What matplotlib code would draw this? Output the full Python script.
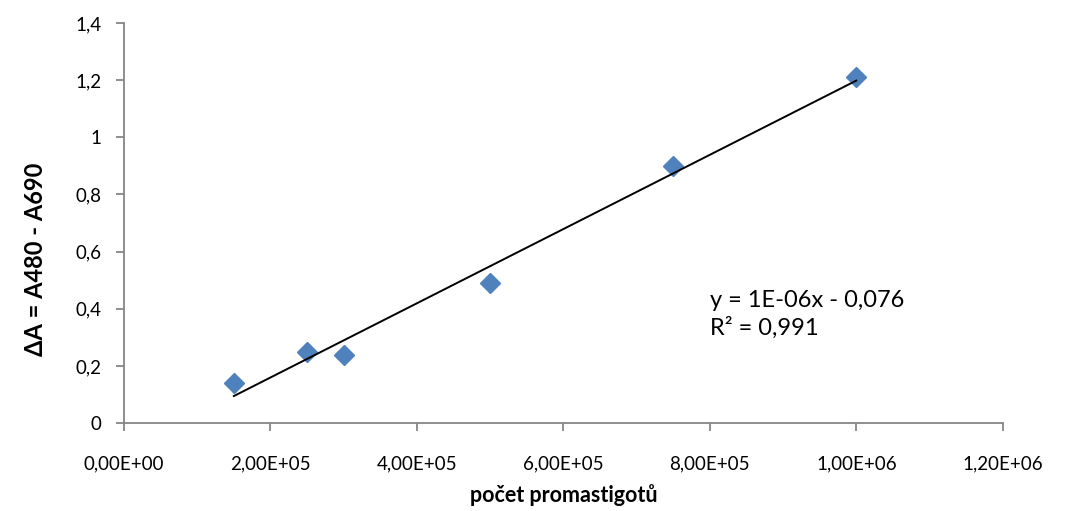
import numpy as np
import matplotlib
matplotlib.use('Agg')
import matplotlib.pyplot as plt

plt.rcParams['font.family'] = ['Lato', 'DejaVu Sans']

# data
pocet = [1.5e5, 2.5e5, 3.0e5, 5.0e5, 7.5e5, 1.0e6]
delta_a = [0.14, 0.25, 0.24, 0.49, 0.90, 1.21]
x_ticks = [0, 2e5, 4e5, 6e5, 8e5, 1e6, 1.2e6]
x_labels = ['0,00E+00', '2,00E+05', '4,00E+05', '6,00E+05', '8,00E+05', '1,00E+06', '1,20E+06']
y_ticks = [0, 0.2, 0.4, 0.6, 0.8, 1.0, 1.2, 1.4]
y_labels = ['0', '0,2', '0,4', '0,6', '0,8', '1', '1,2', '1,4']

fig = plt.figure(figsize=(10.69, 5.11), dpi=100)
ax = fig.add_axes([0.116, 0.172, 0.822, 0.783])

ax.plot(pocet, delta_a, linestyle='none', marker='D', markersize=10,
        color='#4F81BD', markeredgecolor='#4F81BD')

# linear trendline
k, q = np.polyfit(pocet, delta_a, 1)
xl = np.array([min(pocet), max(pocet)])
ax.plot(xl, k * xl + q, color='black', linewidth=1.4)

ax.set_xlim(0, 1.2e6)
ax.set_ylim(0, 1.4)
ax.set_xticks(x_ticks)
ax.set_xticklabels(x_labels)
ax.set_yticks(y_ticks)
ax.set_yticklabels(y_labels)

for s in ['top', 'right']:
    ax.spines[s].set_visible(False)
for s in ['left', 'bottom']:
    ax.spines[s].set_color('#868686')
    ax.spines[s].set_linewidth(1.3)
ax.tick_params(axis='both', colors='#868686', length=6, width=1.3,
               labelsize=13.5, labelcolor='black')
ax.tick_params(axis='x', pad=17)
ax.tick_params(axis='y', pad=10)

ax.set_xlabel('počet promastigotů', fontsize=15.5, fontweight='bold')
ax.xaxis.set_label_coords(0.5, -0.152)
ax.set_ylabel('ΔA = A480 - A690', fontsize=17, fontweight='bold')
ax.yaxis.set_label_coords(-0.088, 0.41)

ax.text(8.0e5, 0.38, 'y = 1E-06x - 0,076\nR² = 0,991', fontsize=17,
        va='center', ha='left', linespacing=1.3)

fig.savefig('out.png', dpi=100)
